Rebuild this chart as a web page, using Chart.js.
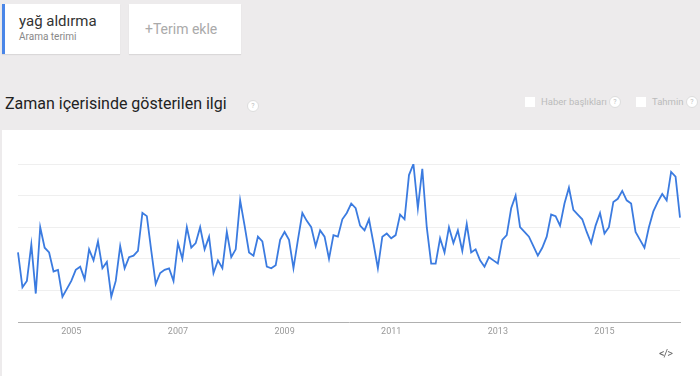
<!DOCTYPE html>
<html>
<head>
<meta charset="utf-8">
<script src="https://cdn.jsdelivr.net/npm/chart.js@4/dist/chart.umd.min.js"></script>
<style>
  body { margin: 0; width: 700px; height: 376px; background: #edebec; font-family: Roboto, "Noto Sans", sans-serif; position: relative; overflow: hidden; }
  .card { position: absolute; top: 4px; height: 50px; background: #fff; box-shadow: 0 1px 1px rgba(0,0,0,0.08); }
  #term { left: 2px; width: 118px; border-left: 3px solid #4a86e8; box-sizing: border-box; }
  #term .name { position: absolute; left: 14px; top: 8px; font-size: 15px; color: #333; }
  #term .sub { position: absolute; left: 14px; top: 27px; font-size: 10px; color: #888; }
  #add { left: 129px; width: 112px; }
  #add span { position: absolute; left: 16px; top: 17px; font-size: 14px; color: #aaa; }
  #title { position: absolute; left: 5px; top: 94px; font-size: 16px; color: #222; }
  .q { position: absolute; width: 10px; height: 10px; border-radius: 50%; border: 1px solid #ddd; background: #fff; color: #bbb; font-size: 7px; line-height: 10px; text-align: center; }
  .box { position: absolute; width: 10px; height: 10px; background: #fff; top: 97px; }
  .opt { position: absolute; top: 96px; font-size: 9.5px; color: #bbb; }
  #panel { position: absolute; left: 2px; top: 130px; width: 698px; height: 246px; background: #fff; }
  #wrap { position: absolute; left: 0; top: 130px; width: 700px; height: 246px; }
  #embed { position: absolute; left: 659px; top: 347px; font-size: 11px; color: #666; letter-spacing: -1px; }
</style>
</head>
<body>
<div class="card" id="term"><div class="name">yağ aldırma</div><div class="sub">Arama terimi</div></div>
<div class="card" id="add"><span>+Terim ekle</span></div>
<div id="title">Zaman içerisinde gösterilen ilgi</div>
<div class="q" style="left:247px;top:100px;">?</div>
<div class="box" style="left:525px;"></div>
<div class="opt" style="left:541px;">Haber başlıkları</div>
<div class="q" style="left:609px;top:96px;">?</div>
<div class="box" style="left:636px;"></div>
<div class="opt" style="left:652px;">Tahmin</div>
<div class="q" style="left:686px;top:96px;">?</div>
<div id="panel"></div>
<div id="wrap"><canvas id="trend"></canvas></div>
<div id="embed">&lt;/&gt;</div>
<script>
// monthly interest, Jan 2004 - Jun 2016
const y2004 = [44, 22, 26, 49, 18, 60, 47, 44, 32, 33, 16, 21];
const y2005 = [26, 33, 35, 27, 46, 39, 51, 34, 38, 16, 26, 48];
const y2006 = [34, 41, 42, 45, 69, 67, 45, 24, 31, 33, 34, 26];
const y2007 = [50, 40, 60, 47, 50, 60, 46, 54, 31, 39, 34, 57];
const y2008 = [41, 46, 77, 61, 44, 42, 54, 51, 35, 34, 36, 52];
const y2009 = [57, 52, 34, 52, 69, 64, 60, 48, 58, 54, 40, 55];
const y2010 = [54, 65, 69, 75, 72, 61, 58, 65, 50, 34, 54, 56];
const y2011 = [53, 55, 68, 65, 93, 100, 72, 97, 60, 37, 37, 53];
const y2012 = [44, 60, 50, 58, 45, 62, 44, 46, 39, 35, 41, 39];
const y2013 = [37, 52, 55, 72, 80, 60, 57, 54, 48, 42, 47, 54];
const y2014 = [68, 67, 61, 75, 85, 71, 68, 65, 57, 50, 61, 69];
const y2015 = [56, 60, 76, 78, 83, 77, 75, 57, 52, 47, 60, 70];
const y2016 = [76, 81, 77, 95, 92, 66];

const values = [].concat(y2004, y2005, y2006, y2007, y2008, y2009, y2010,
                         y2011, y2012, y2013, y2014, y2015, y2016);
const tickYears = ['2005', '2007', '2009', '2011', '2013', '2015'];

const labels = [];
for (let i = 0; i < values.length; i++) {
    const year = 2004 + Math.floor(i / 12);
    labels.push((i % 12 === 0) ? String(year) : '');
}

const ctx = document.getElementById('trend').getContext('2d');
new Chart(ctx, {
    type: 'line',
    data: {
        labels: labels,
        datasets: [{
            data: values,
            borderColor: '#3b7be0',
            borderWidth: 1.8,
            pointRadius: 0,
            tension: 0,
            fill: false
        }]
    },
    options: {
        responsive: true,
        maintainAspectRatio: false,
        animation: false,
        layout: { padding: { left: 18, right: 20, top: 34, bottom: 0 } },
        plugins: { legend: { display: false }, tooltip: { enabled: false } },
        scales: {
            x: {
                grid: { display: false, drawTicks: false },
                border: { color: '#b0b0b0', width: 1 },
                ticks: {
                    autoSkip: false,
                    maxRotation: 0,
                    padding: 4,
                    color: '#999',
                    font: { family: 'Roboto', size: 9 },
                    callback: function (v, i) {
                        const l = labels[i];
                        return tickYears.includes(l) ? l : '';
                    }
                },
                afterFit: function (s) { s.height = 54; }
            },
            y: {
                min: 0,
                max: 100,
                ticks: { display: false, stepSize: 20 },
                border: { display: false },
                grid: {
                    drawTicks: false,
                    color: function (c) { return c.tick.value === 0 ? 'rgba(0,0,0,0)' : '#efefef'; }
                },
                afterFit: function (s) { s.width = 0; }
            }
        }
    }
});
</script>
</body>
</html>
